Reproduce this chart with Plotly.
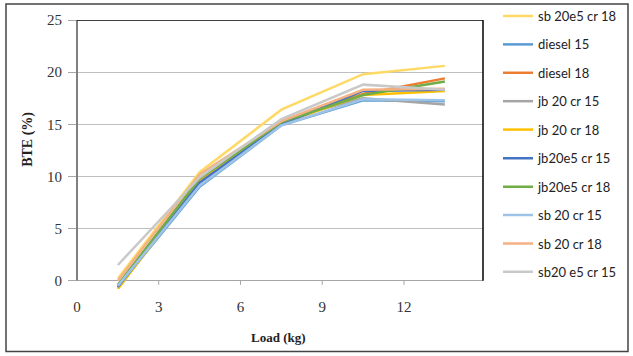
import plotly.graph_objects as go

# Engine load points (kg)
load = [1.5, 4.5, 7.5, 10.5, 13.5]

# Brake thermal efficiency (%) for each fuel / compression ratio
series_names = [
    "sb 20e5 cr 18", "diesel 15", "diesel 18", "jb 20 cr 15", "jb 20 cr 18",
    "jb20e5 cr 15", "jb20e5 cr 18", "sb 20 cr 15", "sb 20 cr 18", "sb20 e5 cr 15",
]
sb20e5_cr18 = [0.2, 10.4, 16.4, 19.8, 20.6]
diesel_15 = [-0.6, 9.0, 14.9, 17.3, 17.2]
diesel_18 = [-0.7, 9.6, 15.3, 17.9, 19.4]
jb20_cr15 = [-0.5, 9.8, 15.4, 17.5, 16.9]
jb20_cr18 = [-0.8, 9.5, 15.1, 17.8, 18.2]
jb20e5_cr15 = [-0.6, 9.4, 15.0, 18.2, 18.3]
jb20e5_cr18 = [-0.4, 9.8, 15.2, 17.8, 19.1]
sb20_cr15 = [-0.5, 9.1, 14.9, 17.4, 17.3]
sb20_cr18 = [0.0, 10.2, 15.3, 18.3, 18.4]
sb20e5_cr15 = [1.5, 9.9, 15.5, 18.8, 18.3]

series_values = [
    sb20e5_cr18, diesel_15, diesel_18, jb20_cr15, jb20_cr18,
    jb20e5_cr15, jb20e5_cr18, sb20_cr15, sb20_cr18, sb20e5_cr15,
]
series_colors = [
    "#FFD966", "#5B9BD5", "#ED7D31", "#A5A5A5", "#FFC000",
    "#4472C4", "#70AD47", "#9DC3E6", "#F4B183", "#C9C9C9",
]

x_ticks = [0, 3, 6, 9, 12]
y_ticks = [0, 5, 10, 15, 20, 25]

fig = go.Figure()
for i, (name, vals, col) in enumerate(zip(series_names, series_values, series_colors)):
    fig.add_trace(go.Scatter(
        x=load, y=vals, mode="lines", name=name,
        line=dict(color=col, width=2.5),
        legendgroup=f"g{i}",
        # the legend is split into two stacked blocks of five entries
        legend="legend" if i < 5 else "legend2",
    ))

serif = "Liberation Serif"

# plot area spans pixels 77..483 horizontally and 20..289.4 vertically
PL, PR, PT, PB = 77, 483, 20, 289.4
def px_x(p):
    return (p - PL) / (PR - PL)
def px_y(p):
    return (PB - p) / (PB - PT)

shapes = [
    # left value axis, from 0 up to the top
    dict(type="line", xref="paper", yref="y", x0=0, x1=0, y0=0, y1=25,
         line=dict(color="#7F7F7F", width=2)),
    # plot-area frame (top and right edges)
    dict(type="line", xref="paper", yref="y", x0=0, x1=1, y0=25, y1=25,
         line=dict(color="black", width=1.5)),
    dict(type="line", xref="paper", yref="y", x0=1, x1=1, y0=0, y1=25,
         line=dict(color="black", width=1.5)),
    # outer chart border
    dict(type="rect", xref="paper", yref="paper",
         x0=px_x(6), x1=px_x(628), y0=px_y(352), y1=px_y(4),
         line=dict(color="#444444", width=1.5), layer="below"),
]
# small tick marks crossing the category axis at y = 0
for t in x_ticks[1:]:
    shapes.append(dict(type="line", xref="x", yref="y", x0=t, x1=t, y0=0, y1=-0.4,
                       line=dict(color="#A6A6A6", width=1)))

legend_style = dict(
    x=px_x(498), xanchor="left", yanchor="top",
    font=dict(family="Lato", size=13, color="#222222"),
    tracegroupgap=8.5, bgcolor="rgba(0,0,0,0)",
)

fig.update_layout(
    width=633, height=356,
    margin=dict(l=PL, r=633 - PR, t=PT, b=356 - PB, autoexpand=False),
    paper_bgcolor="white", plot_bgcolor="white",
    showlegend=True,
    legend=dict(legend_style, y=px_y(1)),
    legend2=dict(legend_style, y=px_y(143.5)),
    xaxis=dict(
        range=[0, 14.9], tickvals=x_ticks, ticktext=[str(t) for t in x_ticks],
        showgrid=False, zeroline=False, showline=False,
        ticks="", ticklabelstandoff=7,
        tickfont=dict(family=serif, size=15, color="#333333"),
    ),
    yaxis=dict(
        range=[-0.8, 25], tickvals=y_ticks,
        showgrid=True, gridcolor="#BFBFBF", gridwidth=1,
        zeroline=True, zerolinecolor="#A6A6A6", zerolinewidth=1,
        showline=False,
        ticks="outside", ticklen=8, tickcolor="#A6A6A6", ticklabelstandoff=3,
        tickfont=dict(family=serif, size=15, color="#333333"),
    ),
    annotations=[
        dict(text="<b>Load (kg)</b>", xref="paper", yref="paper",
             x=px_x(278), y=px_y(338), xanchor="center", yanchor="middle",
             showarrow=False, font=dict(family=serif, size=13, color="#222222")),
        dict(text="<b>BTE (%)</b>", xref="paper", yref="paper", textangle=-90,
             x=px_x(28), y=px_y(140), xanchor="center", yanchor="middle",
             showarrow=False, font=dict(family=serif, size=14, color="#222222")),
    ],
    shapes=shapes,
)

fig.write_html("out.html")
